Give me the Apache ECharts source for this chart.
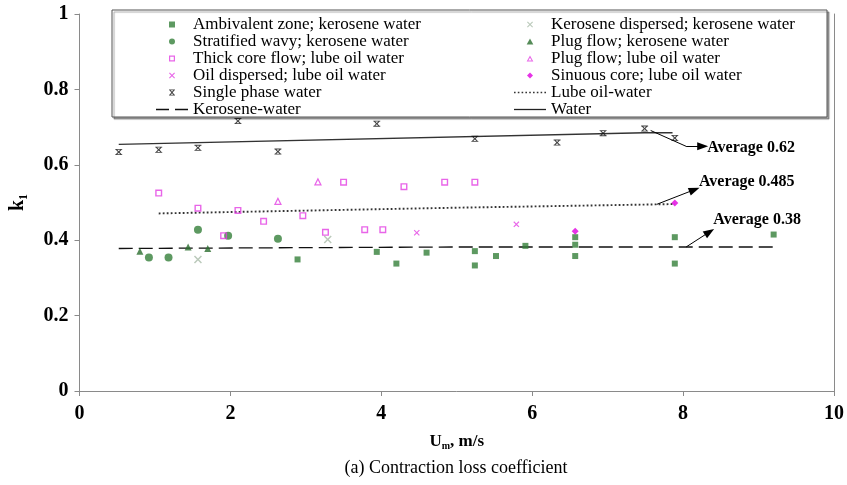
<!DOCTYPE html>
<html>
<head>
<meta charset="utf-8">
<script src="https://cdn.jsdelivr.net/npm/echarts@6/dist/echarts.min.js"></script>
<style>
  html, body { margin: 0; padding: 0; background: #fff; }
  #main { width: 847px; height: 485px; }
</style>
</head>
<body>
<div id="main"></div>
<script>
const SERIF = '"Liberation Serif", "Times New Roman", serif';

// Mixture velocity Um (m/s) against contraction loss coefficient k1, one list per flow pattern
const ambivalentKerosene = [[2.89, 0.349], [3.94, 0.369], [4.20, 0.338], [4.60, 0.367], [5.24, 0.371], [5.24, 0.333],
  [5.52, 0.358], [5.91, 0.385], [6.57, 0.408], [6.57, 0.388], [6.57, 0.358], [7.89, 0.408], [7.89, 0.338], [9.20, 0.415]];
const stratifiedKerosene = [[0.92, 0.354], [1.18, 0.354], [1.57, 0.428], [1.97, 0.412], [2.63, 0.404]];
const thickCoreLube = [[1.05, 0.525], [1.57, 0.485], [1.91, 0.412], [2.10, 0.479], [2.44, 0.450], [2.96, 0.465],
  [3.26, 0.421], [3.50, 0.554], [3.78, 0.428], [4.02, 0.428], [4.30, 0.542], [4.84, 0.554], [5.24, 0.554]];
const oilDispersedLube = [[4.47, 0.420], [5.79, 0.442]];
const singlePhaseWater = [[0.52, 0.634], [1.05, 0.640], [1.57, 0.645], [2.10, 0.716], [2.63, 0.635], [3.94, 0.709],
  [5.24, 0.669], [6.33, 0.659], [6.94, 0.684], [7.49, 0.696], [7.89, 0.671]];
const keroseneDispersed = [[1.57, 0.349], [3.29, 0.402]];
const plugKerosene = [[0.80, 0.371], [1.44, 0.382], [1.70, 0.378]];
const plugLube = [[2.63, 0.504], [3.16, 0.556]];
const sinuousLube = [[6.57, 0.424], [7.89, 0.499]];

// Trend lines
const keroseneWaterLine = [[0.52, 0.378], [4.94, 0.382], [9.20, 0.382]];
const lubeOilWaterLine = [[1.05, 0.471], [4.94, 0.486], [7.65, 0.495], [7.89, 0.496]];
const waterLine = [[0.52, 0.654], [7.49, 0.685], [7.86, 0.685]];

// Average call-outs: arrow path (data coords) and where each text starts
const averageTexts = ['Average 0.62', 'Average 0.485', 'Average 0.38'];
const averageArrows = [
  [[7.57, 0.691], [8.04, 0.649], [8.26, 0.649]],
  [[7.65, 0.495], [8.15, 0.534]],
  [[8.04, 0.382], [8.35, 0.422]]
];
const averageTextAt = [[8.32, 0.645], [8.21, 0.556], [8.40, 0.453]];

// Axis ticks
const xTicks = [0, 2, 4, 6, 8, 10];
const yTicks = [0, 0.2, 0.4, 0.6, 0.8, 1];

const GREEN = '#35803a';
const DARK_GREEN = '#2a6e2e';
const MAGENTA = '#e23ee2';
const PALE = '#a9bba9';
const AXIS_GRAY = '#8a8a8a';

// Marker shapes as filled outlines
const P = {
  square: 'path://M0,0h10v10h-10z',
  openSquare: 'path://M0,0h10v10h-10zM2,2v6h6v-6z',
  triangle: 'path://M5,0L10,9L0,9Z',
  openTriangle: 'path://M5,0L10,9L0,9ZM5,3.2L2.5,7.6L7.5,7.6Z',
  diamond: 'path://M5,0L10,5L5,10L0,5Z',
  cross: 'path://M0,1.3L1.3,0L5,3.7L8.7,0L10,1.3L6.3,5L10,8.7L8.7,10L5,6.3L1.3,10L0,8.7L3.7,5Z',
  barCross: 'path://M0,0h10v1.4h-10zM0,8.6h10v1.4h-10zM0.8,1.3L2.1,0.4L5,3.9L7.9,0.4L9.2,1.3L6.2,5L9.2,8.7L7.9,9.6L5,6.1L2.1,9.6L0.8,8.7L3.8,5Z'
};
// Legend strokes drawn as filled strips, 32 units wide
function strip(dash, gap, h) {
  let d = 'path://';
  for (let x = 0; x < 32; x += dash + gap) {
    const w = Math.min(dash, 32 - x);
    d += 'M' + x + ',0h' + w + 'v' + h + 'h-' + w + 'z';
  }
  return d;
}
const ICON_SOLID = 'path://M0,0h32v1.3h-32z';
const ICON_DASH = 'path://M0,0h13v1.3h-13zM19,0h13v1.3h-13z';
const ICON_DOT = strip(1.6, 2.2, 1.6);

function scatter(name, data, symbol, size, color) {
  return { name, type: 'scatter', data, symbol, symbolSize: size, itemStyle: { color }, z: 2 };
}
function trend(name, data, lineStyle) {
  return { name, type: 'line', data, symbol: 'none', lineStyle, itemStyle: { color: lineStyle.color }, z: 1 };
}
function legendItem(name, icon, color) {
  return { name, icon, itemStyle: { color } };
}

// Arrow segments; only the final segment of each call-out carries a head
const arrowSegments = [];
averageArrows.forEach(path => {
  for (let i = 0; i < path.length - 1; i++) {
    const last = i === path.length - 2;
    arrowSegments.push([
      { coord: path[i], symbol: 'none' },
      { coord: path[i + 1], symbol: last ? 'triangle' : 'none' }
    ]);
  }
});

const legendText = { fontFamily: SERIF, fontSize: 17, color: '#000', lineHeight: 17 };
const legendCommon = {
  orient: 'vertical', top: 11, itemWidth: 32, itemHeight: 6, itemGap: 0,
  textStyle: legendText, selectedMode: false, z: 4, symbolKeepAspect: true
};

const option = {
  animation: false,
  backgroundColor: '#fff',
  grid: { left: 73, right: 11, top: 14, bottom: 94, containLabel: false },
  title: {
    text: '(a) Contraction loss coefficient',
    left: 451, top: 454, textAlign: 'center',
    textStyle: { fontFamily: SERIF, fontSize: 18, fontWeight: 'normal', color: '#000' }
  },
  legend: [
    Object.assign({}, legendCommon, {
      left: 151,
      data: [
        legendItem('Ambivalent zone; kerosene water', P.square, GREEN),
        legendItem('Stratified wavy; kerosene water', 'circle', GREEN),
        legendItem('Thick core flow; lube oil water', P.openSquare, MAGENTA),
        legendItem('Oil dispersed; lube oil water', P.cross, MAGENTA),
        legendItem('Single phase water', P.barCross, '#111'),
        legendItem('Kerosene-water', ICON_DASH, '#111')
      ]
    }),
    Object.assign({}, legendCommon, {
      left: 509,
      data: [
        legendItem('Kerosene dispersed; kerosene water', P.cross, PALE),
        legendItem('Plug flow; kerosene water', P.triangle, DARK_GREEN),
        legendItem('Plug flow; lube oil water', P.openTriangle, MAGENTA),
        legendItem('Sinuous core; lube oil water', P.diamond, '#e000e0'),
        legendItem('Lube oil-water', ICON_DOT, '#333'),
        legendItem('Water', ICON_SOLID, '#222')
      ]
    })
  ],
  xAxis: {
    type: 'value', min: xTicks[0], max: xTicks[xTicks.length - 1], interval: xTicks[1] - xTicks[0],
    splitLine: { show: false },
    axisLine: { lineStyle: { color: AXIS_GRAY, width: 1 } },
    axisTick: { length: 5, lineStyle: { color: AXIS_GRAY } },
    axisLabel: { fontFamily: SERIF, fontSize: 20, fontWeight: 'bold', color: '#000', margin: 13 },
    name: '{b|U}{s|m}{b|, m/s}', nameLocation: 'middle', nameGap: 41,
    nameTextStyle: {
      rich: {
        b: { fontFamily: SERIF, fontSize: 17, fontWeight: 'bold', color: '#000', lineHeight: 19, verticalAlign: 'middle' },
        s: { fontFamily: SERIF, fontSize: 10, fontWeight: 'bold', color: '#000', lineHeight: 19, verticalAlign: 'bottom' }
      }
    }
  },
  yAxis: [
    {
      type: 'value', min: yTicks[0], max: yTicks[yTicks.length - 1], interval: yTicks[1] - yTicks[0],
      splitLine: { show: false },
      axisLine: { show: true, lineStyle: { color: AXIS_GRAY, width: 1 } },
      axisTick: { show: true, length: 5, lineStyle: { color: AXIS_GRAY } },
      axisLabel: { fontFamily: SERIF, fontSize: 20, fontWeight: 'bold', color: '#000', margin: 11 },
      name: '{b|k}{s|1}', nameLocation: 'middle', nameGap: 50,
      nameTextStyle: {
        rich: {
          b: { fontFamily: SERIF, fontSize: 20, fontWeight: 'bold', color: '#000', lineHeight: 23, verticalAlign: 'middle' },
          s: { fontFamily: SERIF, fontSize: 12, fontWeight: 'bold', color: '#000', lineHeight: 23, verticalAlign: 'bottom' }
        }
      }
    },
    {
      type: 'value', position: 'right', min: 0, max: 1,
      splitLine: { show: false },
      axisLine: { show: true, lineStyle: { color: AXIS_GRAY, width: 1 } },
      axisTick: { show: false }, axisLabel: { show: false }
    }
  ],
  series: [
    trend('Kerosene-water', keroseneWaterLine, { color: '#111', width: 1.3, type: [14, 6] }),
    trend('Lube oil-water', lubeOilWaterLine, { color: '#333', width: 1.9, type: [1.8, 2.2] }),
    trend('Water', waterLine, { color: '#333', width: 1.3, type: 'solid' }),
    scatter('Ambivalent zone; kerosene water', ambivalentKerosene, P.square, 6, GREEN),
    scatter('Stratified wavy; kerosene water', stratifiedKerosene, 'circle', 8, GREEN),
    scatter('Thick core flow; lube oil water', thickCoreLube, P.openSquare, 7, MAGENTA),
    scatter('Oil dispersed; lube oil water', oilDispersedLube, P.cross, 6, MAGENTA),
    scatter('Single phase water', singlePhaseWater, P.barCross, [7, 6], '#111'),
    scatter('Kerosene dispersed; kerosene water', keroseneDispersed, P.cross, 8, PALE),
    scatter('Plug flow; kerosene water', plugKerosene, P.triangle, [7, 7], DARK_GREEN),
    scatter('Plug flow; lube oil water', plugLube, P.openTriangle, [8, 8], MAGENTA),
    scatter('Sinuous core; lube oil water', sinuousLube, P.diamond, 7, '#e000e0'),
    {
      name: 'call-outs', type: 'line', data: [], silent: true,
      markLine: {
        silent: true, animation: false,
        symbolSize: [8, 11],
        label: { show: false },
        lineStyle: { color: '#000', width: 1, type: 'solid' },
        emphasis: { disabled: true },
        data: arrowSegments
      }
    }
  ]
};

const chart = echarts.init(document.getElementById('main'), null, { renderer: 'canvas' });
chart.setOption(option);

// Legend frame and the average call-out texts
const graphics = [{
  type: 'rect', z: 3, silent: true,
  shape: { x: 112, y: 10, width: 715, height: 107 },
  style: { fill: '#fff', stroke: '#555', lineWidth: 1, shadowColor: 'rgba(0,0,0,0.35)', shadowOffsetX: 2, shadowOffsetY: 2, shadowBlur: 1 }
}];
averageTexts.forEach((t, i) => {
  const p = chart.convertToPixel({ gridIndex: 0 }, averageTextAt[i]);
  graphics.push({
    type: 'text', z: 5, x: p[0], y: p[1], silent: true,
    style: { text: t, font: 'bold 16px ' + SERIF, fill: '#000', align: 'left', verticalAlign: 'middle' }
  });
});
chart.setOption({ graphic: graphics });
</script>
</body>
</html>
